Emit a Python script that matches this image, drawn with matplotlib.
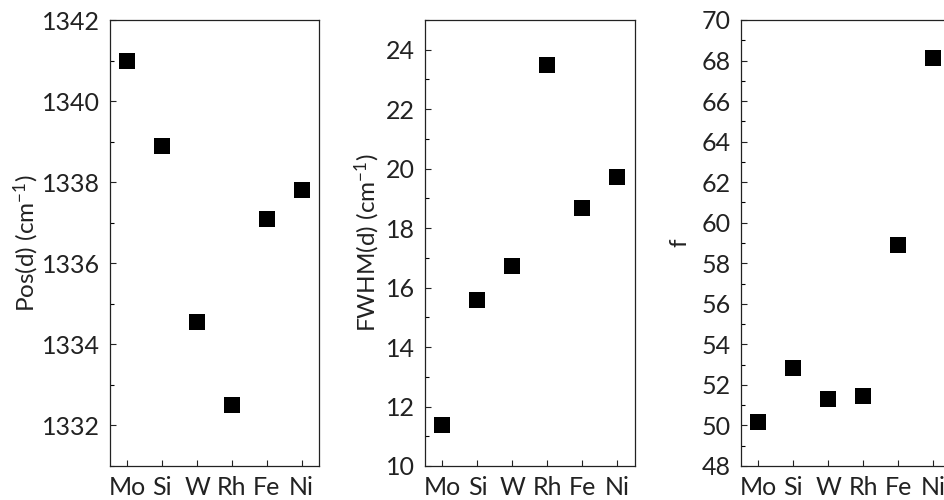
import matplotlib
matplotlib.use("Agg")
import matplotlib.pyplot as plt
from matplotlib.ticker import MultipleLocator

plt.rcParams['font.family'] = ['Lato', 'DejaVu Sans']
plt.rcParams['mathtext.fontset'] = 'custom'
plt.rcParams['mathtext.rm'] = 'Lato'
plt.rcParams['mathtext.it'] = 'Lato:italic'
plt.rcParams['mathtext.default'] = 'regular'

categories = ["Mo", "Si", "W", "Rh", "Fe", "Ni"]
pos_d = [1341.0, 1338.9, 1334.55, 1332.5, 1337.1, 1337.8]
fwhm_d = [11.37, 15.58, 16.73, 23.5, 18.67, 19.72]
f_vals = [50.16, 52.85, 51.31, 51.47, 58.9, 68.14]

fig = plt.figure(figsize=(9.45, 5.0), dpi=100)

panels = [
    dict(rect=[0.1164, 0.068, 0.2212, 0.892], data=pos_d, ylim=(1331, 1342),
         major=2, minor=1, label="Pos(d) (cm$^{-1}$)", labx=26),
    dict(rect=[0.4497, 0.068, 0.2222, 0.892], data=fwhm_d, ylim=(10, 25),
         major=2, minor=1, label="FWHM(d) (cm$^{-1}$)", labx=367),
    dict(rect=[0.7838, 0.068, 0.2223, 0.892], data=f_vals, ylim=(48, 70),
         major=2, minor=1, label="f", labx=680),
]

x = list(range(len(categories)))
for p in panels:
    ax = fig.add_axes(p["rect"])
    ax.plot(x, p["data"], linestyle='none', marker='s', markersize=11,
            color='black', markeredgewidth=0)
    ax.set_xlim(-0.5, 5.5)
    ax.set_ylim(*p["ylim"])
    ax.yaxis.set_major_locator(MultipleLocator(p["major"]))
    ax.yaxis.set_minor_locator(MultipleLocator(p["minor"]))
    ax.set_xticks(x)
    ax.set_xticklabels(categories)
    ax.tick_params(axis='both', which='major', direction='in', length=4.5,
                   width=0.8, labelsize=18, colors='#222222')
    ax.tick_params(axis='y', which='major', pad=7)
    ax.tick_params(axis='y', which='minor', direction='in', length=3, width=0.8)
    ax.tick_params(axis='x', which='major', pad=7)
    for s in ax.spines.values():
        s.set_linewidth(0.9)
        s.set_color('#222222')
    ax.set_ylabel(p["label"], fontsize=17.5, color='#222222', va='center')
    xfig = p["labx"] / 945.0
    inv = ax.transAxes.inverted()
    xa = inv.transform(fig.transFigure.transform((xfig, 0.5)))[0]
    ax.yaxis.set_label_coords(xa, 0.5)

fig.savefig("out.png", dpi=100)
